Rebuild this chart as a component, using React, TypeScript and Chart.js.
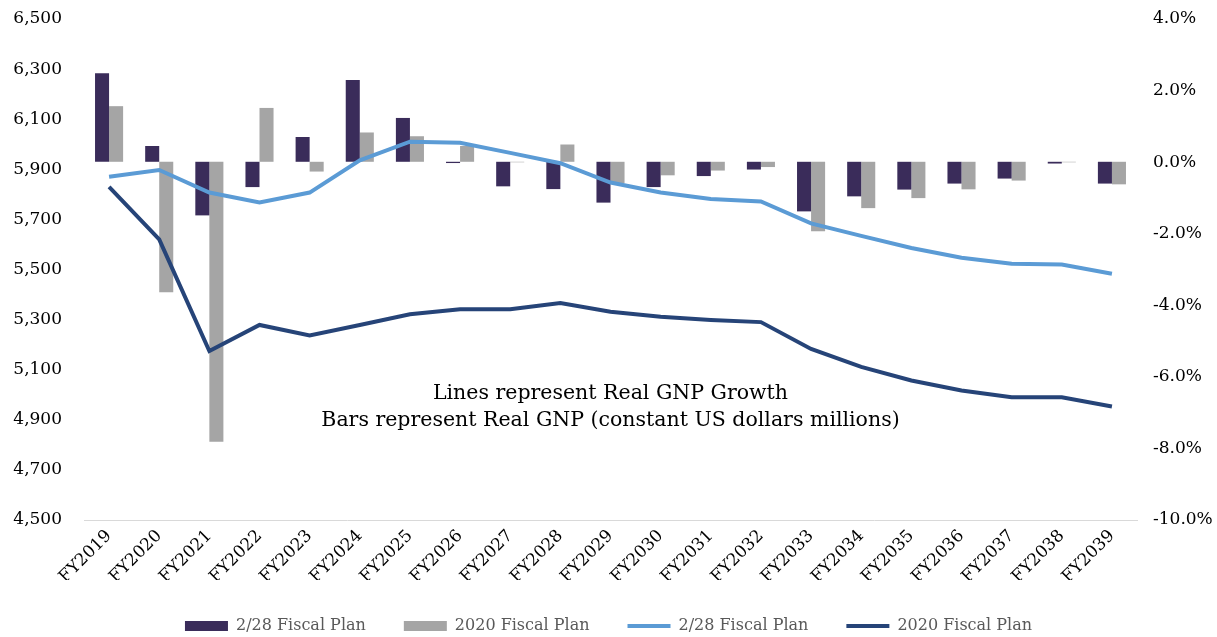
import React, { useEffect, useRef } from 'react';
import { Chart, registerables } from 'chart.js';

Chart.register(...registerables);

const categories = [
  'FY2019', 'FY2020', 'FY2021', 'FY2022', 'FY2023', 'FY2024', 'FY2025',
  'FY2026', 'FY2027', 'FY2028', 'FY2029', 'FY2030', 'FY2031', 'FY2032',
  'FY2033', 'FY2034', 'FY2035', 'FY2036', 'FY2037', 'FY2038', 'FY2039',
];

// Real GNP (constant US dollars millions)
const gnpPlan228 = [6283, 5993, 5716, 5829, 6029, 6256, 6105, 5925, 5832, 5821, 5767, 5829, 5873, 5899, 5732, 5792, 5819, 5843, 5863, 5923, 5843];
const gnpPlan2020 = [6152, 5409, 4812, 6145, 5891, 6047, 6032, 5993, 5928, 5999, 5845, 5876, 5895, 5909, 5653, 5745, 5785, 5820, 5855, 5928, 5840];

// Real GNP growth (%)
const growthPlan228 = [-0.41, -0.22, -0.85, -1.13, -0.85, 0.05, 0.57, 0.54, 0.26, -0.03, -0.57, -0.85, -1.03, -1.10, -1.71, -2.06, -2.40, -2.67, -2.84, -2.86, -3.12];
const growthPlan2020 = [-0.69, -2.16, -5.28, -4.55, -4.84, -4.55, -4.25, -4.11, -4.11, -3.94, -4.18, -4.32, -4.41, -4.47, -5.22, -5.72, -6.10, -6.38, -6.57, -6.57, -6.83];

const barBase = 5930;
const leftMin = 4500;
const leftMax = 6500;
const leftStep = 200;
const rightMin = -10;
const rightMax = 4;
const rightStep = 2;

const seriesNames = ['2/28 Fiscal Plan', '2020 Fiscal Plan', '2/28 Fiscal Plan', '2020 Fiscal Plan'];
const annotationLines = ['Lines represent Real GNP Growth', 'Bars represent Real GNP (constant US dollars millions)'];

const COLORS = {
  bar228: '#3a2c5a',
  bar2020: '#a5a5a5',
  line228: '#5b9bd5',
  line2020: '#264478',
};

const FONT = "'DejaVu Serif', serif";

const annotationPlugin = {
  id: 'annotationText',
  afterDatasetsDraw(chart: any) {
    const { ctx, chartArea } = chart;
    const cx = (chartArea.left + chartArea.right) / 2;
    ctx.save();
    ctx.fillStyle = '#000';
    ctx.font = `20.5px ${FONT}`;
    ctx.textAlign = 'center';
    ctx.textBaseline = 'middle';
    ctx.fillText(annotationLines[0], cx, chartArea.top + 375);
    ctx.fillText(annotationLines[1], cx, chartArea.top + 402);
    ctx.restore();
  },
};

export default function App() {
  const canvasRef = useRef<HTMLCanvasElement | null>(null);

  useEffect(() => {
    if (!canvasRef.current) return;
    const chart = new Chart(canvasRef.current, {
      type: 'bar',
      data: {
        labels: categories,
        datasets: [
          {
            type: 'bar',
            label: seriesNames[0],
            data: gnpPlan228,
            base: barBase,
            backgroundColor: COLORS.bar228,
            yAxisID: 'y',
            order: 2,
            categoryPercentage: 0.56,
            barPercentage: 1.0,
          } as any,
          {
            type: 'bar',
            label: seriesNames[1],
            data: gnpPlan2020,
            base: barBase,
            backgroundColor: COLORS.bar2020,
            yAxisID: 'y',
            order: 2,
            categoryPercentage: 0.56,
            barPercentage: 1.0,
          } as any,
          {
            type: 'line',
            label: seriesNames[2],
            data: growthPlan228,
            borderColor: COLORS.line228,
            backgroundColor: COLORS.line228,
            borderWidth: 4,
            pointRadius: 0,
            tension: 0,
            yAxisID: 'y1',
            order: 1,
          } as any,
          {
            type: 'line',
            label: seriesNames[3],
            data: growthPlan2020,
            borderColor: COLORS.line2020,
            backgroundColor: COLORS.line2020,
            borderWidth: 4,
            pointRadius: 0,
            tension: 0,
            yAxisID: 'y1',
            order: 1,
          } as any,
        ],
      },
      options: {
        animation: false,
        responsive: true,
        maintainAspectRatio: false,
        layout: { padding: { top: 19, left: 0, right: 0, bottom: -7 } },
        plugins: {
          tooltip: { enabled: false },
          legend: {
            position: 'bottom',
            labels: {
              usePointStyle: true,
              pointStyleWidth: 43,
              boxHeight: 10,
              padding: 38,
              color: '#595959',
              font: { family: FONT, size: 16 },
              generateLabels: () => [
                { text: seriesNames[0], fillStyle: COLORS.bar228, strokeStyle: COLORS.bar228, lineWidth: 0, pointStyle: 'rect', datasetIndex: 0, hidden: false, fontColor: '#595959' },
                { text: seriesNames[1], fillStyle: COLORS.bar2020, strokeStyle: COLORS.bar2020, lineWidth: 0, pointStyle: 'rect', datasetIndex: 1, hidden: false, fontColor: '#595959' },
                { text: seriesNames[2], fillStyle: COLORS.line228, strokeStyle: COLORS.line228, lineWidth: 4, pointStyle: 'line', datasetIndex: 2, hidden: false, fontColor: '#595959' },
                { text: seriesNames[3], fillStyle: COLORS.line2020, strokeStyle: COLORS.line2020, lineWidth: 4, pointStyle: 'line', datasetIndex: 3, hidden: false, fontColor: '#595959' },
              ] as any,
            },
          },
        },
        scales: {
          x: {
            offset: true,
            grid: { display: false, drawTicks: false },
            border: { display: true, color: '#d9d9d9', width: 1 },
            ticks: {
              color: '#000',
              font: { family: FONT, size: 17 },
              maxRotation: 45,
              minRotation: 45,
              padding: 6,
              autoSkip: false,
            },
            afterFit: (scale: any) => { scale.height = 60; },
          },
          y: {
            position: 'left',
            min: leftMin,
            max: leftMax,
            grid: { display: false, drawTicks: false },
            border: { display: false },
            ticks: {
              stepSize: leftStep,
              color: '#000',
              font: { family: FONT, size: 17 },
              padding: 22,
              callback: (v: any) => Number(v).toLocaleString('en-US'),
            },
            afterFit: (scale: any) => {
              scale.width = 84;
              scale.paddingTop = 0;
              scale.paddingBottom = 0;
            },
          },
          y1: {
            position: 'right',
            min: rightMin,
            max: rightMax,
            grid: { display: false, drawTicks: false },
            border: { display: false },
            ticks: {
              stepSize: rightStep,
              color: '#000',
              font: { family: FONT, size: 17 },
              padding: 16,
              callback: (v: any) => `${Number(v).toFixed(1)}%`,
            },
            afterFit: (scale: any) => {
              scale.width = 80;
              scale.paddingTop = 0;
              scale.paddingBottom = 0;
            },
          },
        },
      },
      plugins: [annotationPlugin],
    });
    return () => chart.destroy();
  }, []);

  return (
    <div style={{ position: 'fixed', left: 0, top: 0, width: 1217, height: 637, background: '#fff' }}>
      <canvas ref={canvasRef} />
    </div>
  );
}
